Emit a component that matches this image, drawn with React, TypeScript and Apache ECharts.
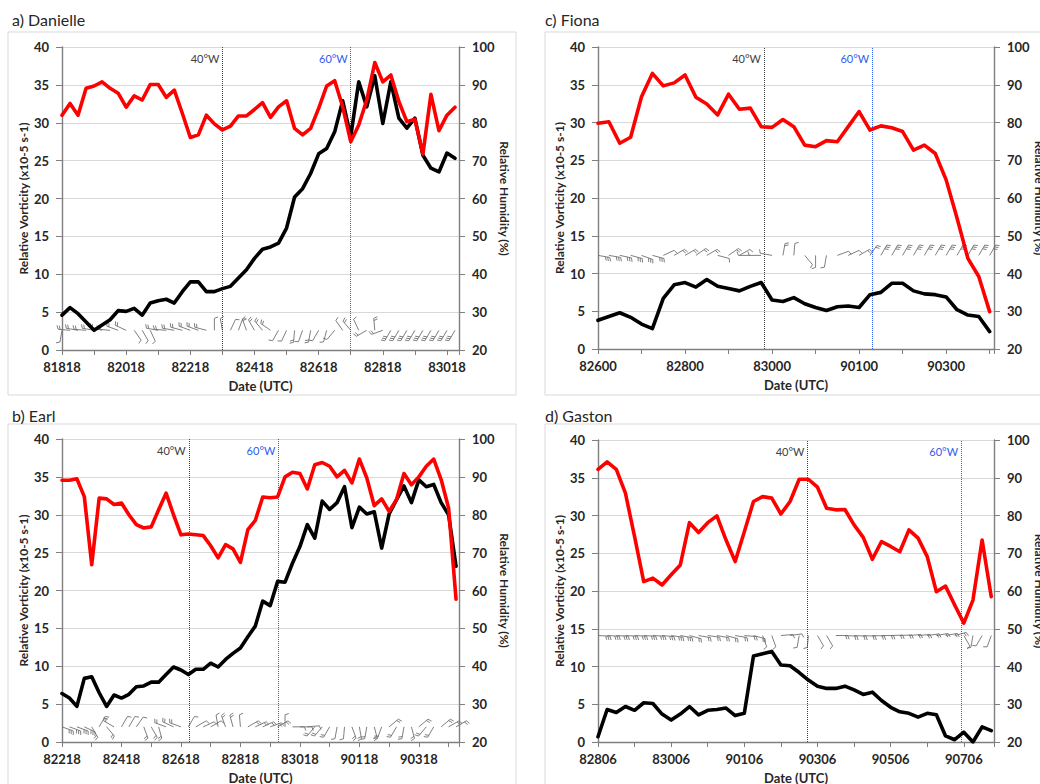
import React, { useEffect, useRef } from "react";
import * as echarts from "echarts";

const FONT = 'Lato, "Open Sans", "DejaVu Sans", sans-serif';

// ---------- a) Danielle ----------
const danielleDates = ["81818", "82018", "82218", "82418", "82618", "82818", "83018"];
const danielleVorticity = [4.6, 5.6, 4.8, 3.7, 2.6, 3.3, 4.0, 5.2, 5.1, 5.5, 4.6, 6.2, 6.5, 6.7, 6.2, 7.7, 9.0, 9.0, 7.7, 7.7, 8.1, 8.4, 9.5, 10.6, 12.1, 13.3, 13.6, 14.1, 16.1, 20.2, 21.3, 23.3, 25.9, 26.6, 28.8, 32.9, 28.2, 35.4, 32.1, 36.2, 29.9, 35.4, 30.6, 29.3, 30.6, 25.7, 24.0, 23.5, 26.0, 25.3];
const danielleHumidity = [82.0, 85.1, 82.0, 89.1, 89.7, 90.8, 89.1, 87.8, 84.1, 87.1, 86.0, 90.1, 90.1, 86.7, 88.6, 82.5, 76.1, 76.8, 82.0, 79.7, 78.1, 79.1, 81.8, 81.8, 83.5, 85.3, 81.4, 84.2, 85.8, 78.5, 76.8, 78.5, 83.8, 89.7, 91.1, 84.2, 75.0, 79.4, 86.0, 95.9, 90.8, 92.6, 85.6, 80.3, 80.9, 71.7, 87.5, 77.9, 82.0, 84.1];
const danielleBarbDir = [-100, 175, 170, 175, 170, 165, 175, 160, 155, -55, -60, -65, 170, 175, 170, 165, 160, 160, 165, 90, 100, 65, 70, 110, 120, 130, 145, -120, -115, -95, -110, -100, -120, -105, -130, 125, 130, 115, -150, 95, -160, -120, -120, -120, -120, -120, -120, -120, -120, -120];
const danielleBarbFeathers = [1, 2, 2, 2, 2, 2, 2, 2, 2, 1, 1, 1, 2, 2, 2, 2, 2, 2, 2, 1, 1, 1, 1, 2, 2, 2, 2, 1, 1, 2, 1, 2, 1, 1, 1, 1, 2, 1, 2, 2, 2, 3, 3, 3, 3, 3, 3, 3, 3, 3];
const danielle40W = 20;
const danielle60W = 36;

// ---------- b) Earl ----------
const earlDates = ["82218", "82418", "82618", "82818", "83018", "90118", "90318"];
const earlVorticity = [6.4, 5.8, 4.7, 8.4, 8.6, 6.5, 4.7, 6.2, 5.8, 6.3, 7.3, 7.4, 7.9, 7.9, 8.9, 9.9, 9.5, 8.9, 9.6, 9.6, 10.4, 9.9, 10.9, 11.7, 12.4, 13.9, 15.3, 18.6, 18.0, 21.2, 21.1, 23.6, 25.8, 28.7, 26.9, 31.8, 30.7, 31.6, 33.7, 28.3, 31.0, 30.1, 30.4, 25.6, 30.1, 32.0, 33.8, 31.6, 34.6, 33.7, 34.0, 31.6, 30.0, 23.2];
const earlHumidity = [89.1, 89.1, 89.5, 84.8, 66.8, 84.4, 84.2, 82.7, 83.1, 80.0, 77.4, 76.5, 76.8, 81.3, 85.7, 80.0, 74.7, 74.9, 74.7, 74.5, 71.8, 68.6, 72.1, 71.0, 67.4, 76.1, 78.5, 84.7, 84.5, 84.7, 90.0, 91.2, 90.9, 86.8, 93.2, 93.8, 92.8, 90.0, 91.7, 88.4, 94.7, 89.7, 82.4, 84.2, 80.9, 84.0, 90.9, 87.9, 90.0, 92.8, 94.7, 89.3, 81.8, 57.7];
const earlBarbDir = [-20, -20, -20, -25, -60, 60, -50, 150, 60, 60, 55, -70, -60, -75, 160, 155, 160, 60, 30, 25, 30, 100, 110, 105, 95, 30, 25, 25, 20, 30, 90, 0, 0, 5, -130, -130, -120, -100, -95, -70, -80, -100, -75, -110, 40, -120, -100, -75, 40, -130, -120, 40, 30, 30];
const earlBarbFeathers = [3, 3, 3, 3, 2, 2, 2, 2, 1, 1, 1, 2, 2, 2, 2, 2, 2, 1, 1, 1, 1, 1, 2, 2, 1, 2, 2, 2, 2, 2, 1, 1, 1, 1, 2, 2, 2, 1, 1, 2, 2, 2, 2, 2, 2, 2, 2, 2, 2, 2, 2, 2, 2, 2];
const earl40W = 17.05;
const earl60W = 29.1;

// ---------- c) Fiona ----------
const fionaDates = ["82600", "82800", "83000", "90100", "90300"];
const fionaVorticity = [3.8, 4.3, 4.8, 4.2, 3.3, 2.7, 6.7, 8.5, 8.8, 8.2, 9.2, 8.3, 8.0, 7.7, 8.3, 8.8, 6.5, 6.3, 6.8, 6.0, 5.5, 5.1, 5.6, 5.7, 5.5, 7.2, 7.5, 8.7, 8.7, 7.7, 7.3, 7.2, 6.9, 5.2, 4.5, 4.3, 2.3];
const fionaHumidity = [79.8, 80.2, 74.5, 76.1, 86.8, 93.0, 89.7, 90.5, 92.6, 86.7, 84.9, 82.0, 87.5, 83.5, 83.8, 78.9, 78.7, 80.8, 78.9, 74.0, 73.6, 75.2, 74.9, 78.9, 82.9, 78.0, 79.1, 78.6, 77.6, 72.7, 74.0, 71.8, 64.8, 54.7, 44.0, 39.2, 29.9];
const fionaBarbDir = [-10, -10, -12, -15, -20, -15, 25, 30, 30, 35, 30, -15, 35, 30, 180, 180, 170, 80, 85, -50, -90, -100, 20, 25, 30, 55, 60, 60, 60, 60, 60, 60, 60, 60, 60, 60, 60];
const fionaBarbFeathers = [3, 3, 3, 3, 3, 3, 1, 2, 2, 2, 2, 1, 2, 1, 1, 1, 1, 2, 1, 1, 1, 1, 1, 1, 2, 2, 3, 3, 3, 3, 3, 3, 3, 3, 3, 3, 3];
const fiona40W = 15.25;
const fiona60W = 25.2;

// ---------- d) Gaston ----------
const gastonDates = ["82806", "83006", "90106", "90306", "90506", "90706"];
const gastonVorticity = [0.7, 4.3, 3.9, 4.7, 4.2, 5.2, 5.1, 3.7, 2.9, 3.7, 4.7, 3.6, 4.2, 4.3, 4.5, 3.5, 3.8, 11.4, 11.7, 12.0, 10.2, 10.1, 9.2, 8.2, 7.4, 7.1, 7.1, 7.4, 6.9, 6.3, 6.6, 5.5, 4.6, 4.0, 3.8, 3.3, 3.8, 3.6, 0.8, 0.3, 1.3, 0.0, 2.0, 1.5];
const gastonHumidity = [92.2, 94.2, 92.2, 85.9, 74.4, 62.5, 63.4, 61.6, 64.3, 66.9, 78.1, 75.5, 78.1, 79.9, 73.5, 67.8, 75.7, 83.7, 85.0, 84.6, 80.4, 83.7, 89.6, 89.6, 87.5, 81.9, 81.5, 81.6, 77.5, 74.2, 68.4, 73.1, 71.8, 70.4, 76.2, 74.0, 69.1, 59.8, 61.3, 56.3, 51.5, 57.6, 73.5, 58.5];
const gastonBarbDir = [-3, -3, -3, -3, -3, -3, -3, -5, -8, -10, -15, -10, -8, -10, -15, -10, -5, -15, -70, -70, 5, 8, -100, -95, -60, -60, 0, -3, -3, -3, -2, 0, 2, 3, 5, 5, 8, 10, 10, 15, -60, -100, -120, -110];
const gastonBarbFeathers = [3, 3, 3, 3, 3, 3, 3, 3, 3, 3, 2, 2, 2, 2, 2, 2, 2, 2, 1, 1, 1, 1, 1, 1, 1, 1, 2, 2, 2, 2, 2, 2, 2, 2, 2, 2, 2, 2, 2, 2, 1, 1, 1, 1];
const gaston40W = 22.9;
const gaston60W = 39.7;

const BLUE = "#2f5cf0";
const AXIS = "#7f7f7f";
const TEXT = "#262626";

type Panel = {
  title: string;
  vort: number[];
  rh: number[];
  labels: string[];
  barbLevel: number;
  barbDir: number[];
  barbN: number[];
  w40: number;
  w60: number;
  xMax: number;
  grid: { left: number; top: number; width: number; height: number };
  frame: [number, number, number, number];
  titleAt: [number, number];
};

const panels: Panel[] = [
  {
    title: "a) Danielle", vort: danielleVorticity, rh: danielleHumidity, labels: danielleDates,
    barbLevel: 2.6, barbDir: danielleBarbDir, barbN: danielleBarbFeathers, w40: danielle40W, w60: danielle60W,
    xMax: 49.5, grid: { left: 62, top: 47, width: 397, height: 303 }, frame: [8, 32, 508, 363], titleAt: [12, 19],
  },
  {
    title: "c) Fiona", vort: fionaVorticity, rh: fionaHumidity, labels: fionaDates,
    barbLevel: 12.4, barbDir: fionaBarbDir, barbN: fionaBarbFeathers, w40: fiona40W, w60: fiona60W,
    xMax: 36.4, grid: { left: 598, top: 47, width: 396, height: 302 }, frame: [545, 32, 520, 363], titleAt: [545, 19],
  },
  {
    title: "b) Earl", vort: earlVorticity, rh: earlHumidity, labels: earlDates,
    barbLevel: 2.0, barbDir: earlBarbDir, barbN: earlBarbFeathers, w40: earl40W, w60: earl60W,
    xMax: 53.4, grid: { left: 62, top: 439, width: 397, height: 303 }, frame: [8, 424, 508, 380], titleAt: [12, 415],
  },
  {
    title: "d) Gaston", vort: gastonVorticity, rh: gastonHumidity, labels: gastonDates,
    barbLevel: 14.1, barbDir: gastonBarbDir, barbN: gastonBarbFeathers, w40: gaston40W, w60: gaston60W,
    xMax: 43.3, grid: { left: 598, top: 440, width: 396, height: 302 }, frame: [545, 424, 520, 380], titleAt: [545, 415],
  },
];

function barbRender(params: any, api: any) {
  const base = api.coord([api.value(0), api.value(1)]);
  const ang = (api.value(2) * Math.PI) / 180;
  const n = api.value(3);
  const L = 12, F = 4, S = 2.2;
  const ux = Math.cos(ang), uy = -Math.sin(ang);
  const tx = base[0] + ux * L, ty = base[1] + uy * L;
  const fa = ang - (70 * Math.PI) / 180;
  const fx = Math.cos(fa), fy = -Math.sin(fa);
  const style = { stroke: "#707070", lineWidth: 0.9 };
  const children: any[] = [
    { type: "line", shape: { x1: base[0], y1: base[1], x2: tx, y2: ty }, style },
  ];
  for (let k = 0; k < n; k++) {
    const px = tx - ux * S * k, py = ty - uy * S * k;
    children.push({ type: "line", shape: { x1: px, y1: py, x2: px + fx * F, y2: py + fy * F }, style });
  }
  return { type: "group", children };
}

function buildOption() {
  const grid: any[] = [];
  const xAxis: any[] = [];
  const yAxis: any[] = [];
  const series: any[] = [];
  const graphic: any[] = [];
  const tickLabelStyle = { fontFamily: FONT, fontWeight: "bold", fontSize: 13, color: TEXT };

  panels.forEach((p, k) => {
    grid.push({ ...p.grid, containLabel: false });
    xAxis.push({
      gridIndex: k, type: "value", min: 0, max: p.xMax, interval: 4,
      axisLine: { show: true, onZero: false, lineStyle: { color: AXIS, width: 1.4 } },
      axisTick: { show: true, length: 5, lineStyle: { color: AXIS } },
      splitLine: { show: false },
      axisLabel: {
        ...tickLabelStyle, margin: 10, showMinLabel: true, showMaxLabel: true,
        formatter: (v: number) => (Math.abs(v % 8) < 1e-6 ? p.labels[Math.round(v / 8)] ?? "" : ""),
      },
    });
    yAxis.push({
      gridIndex: k, type: "value", min: 0, max: 40, interval: 5, position: "left",
      axisLine: { show: true, onZero: false, lineStyle: { color: AXIS, width: 1.4 } },
      axisTick: { show: true, length: 6, lineStyle: { color: AXIS } },
      splitLine: { show: true, lineStyle: { color: "#d9d9d9", width: 1 } },
      axisLabel: { ...tickLabelStyle, margin: 13 },
    });
    yAxis.push({
      gridIndex: k, type: "value", min: 20, max: 100, interval: 10, position: "right",
      axisLine: { show: true, onZero: false, lineStyle: { color: AXIS, width: 1.4 } },
      axisTick: { show: true, length: 6, lineStyle: { color: AXIS } },
      splitLine: { show: false },
      axisLabel: { ...tickLabelStyle, margin: 13 },
    });

    series.push({
      type: "custom", name: "barbs" + k, xAxisIndex: k, yAxisIndex: 2 * k, z: 1, silent: true,
      renderItem: barbRender,
      encode: { x: 0, y: 1 },
      data: p.vort.map((_, i) => [i, p.barbLevel, p.barbDir[i], p.barbN[i]]),
    });
    series.push({
      type: "line", name: "Relative Vorticity", xAxisIndex: k, yAxisIndex: 2 * k, z: 3,
      symbol: "none", data: p.vort.map((v, i) => [i, v]),
      lineStyle: { color: "#000000", width: 3.6, cap: "round", join: "round" },
      itemStyle: { color: "#000000" },
      markLine: {
        symbol: "none", silent: true, label: { show: false }, z: 2,
        data: [
          { xAxis: p.w40, lineStyle: { color: "#404040", type: "dotted", width: 1 } },
          { xAxis: p.w60, lineStyle: { color: BLUE, type: "dotted", width: 1 } },
        ],
      },
      markPoint: {
        symbol: "circle", symbolSize: 0, silent: true,
        itemStyle: { color: "transparent" },
        data: [
          {
            coord: [p.w40, 40],
            label: { show: true, position: "left", distance: 3, offset: [0, 11], formatter: "40°W", color: "#404040", fontSize: 11, fontFamily: FONT },
          },
          {
            coord: [p.w60, 40],
            label: { show: true, position: "left", distance: 3, offset: [0, 11], formatter: "60°W", color: BLUE, fontSize: 11, fontFamily: FONT },
          },
        ],
      },
    });
    series.push({
      type: "line", name: "Relative Humidity", xAxisIndex: k, yAxisIndex: 2 * k + 1, z: 4,
      symbol: "none", data: p.rh.map((v, i) => [i, v]),
      lineStyle: { color: "#ff0000", width: 3.6, cap: "round", join: "round" },
      itemStyle: { color: "#ff0000" },
    });

    const g = p.grid;
    graphic.push({
      type: "rect", z: -10, silent: true,
      shape: { x: p.frame[0], y: p.frame[1], width: p.frame[2], height: p.frame[3] },
      style: { fill: "none", stroke: "#d9d9d9", lineWidth: 1 },
    });
    graphic.push({
      type: "text", x: p.titleAt[0], y: p.titleAt[1], silent: true,
      style: { text: p.title, fontSize: 16, fontFamily: FONT, fill: "#262626", textAlign: "left", align: "left", textVerticalAlign: "middle", verticalAlign: "middle" },
    });
    graphic.push({
      type: "text", x: g.left - 39, y: g.top + g.height / 2, rotation: Math.PI / 2, silent: true,
      style: { text: "Relative Vorticity (x10-5 s-1)", fontSize: 12, fontWeight: "bold", fontFamily: FONT, fill: TEXT, textAlign: "center", align: "center", textVerticalAlign: "middle", verticalAlign: "middle" },
    });
    graphic.push({
      type: "text", x: g.left + g.width + 45, y: g.top + g.height / 2, rotation: -Math.PI / 2, silent: true,
      style: { text: "Relative Humidity (%)", fontSize: 12, fontWeight: "bold", fontFamily: FONT, fill: TEXT, textAlign: "center", align: "center", textVerticalAlign: "middle", verticalAlign: "middle" },
    });
    graphic.push({
      type: "text", x: g.left + g.width / 2, y: g.top + g.height + 36, silent: true,
      style: { text: "Date (UTC)", fontSize: 13, fontWeight: "bold", fontFamily: FONT, fill: TEXT, textAlign: "center", align: "center", textVerticalAlign: "middle", verticalAlign: "middle" },
    });
  });

  return {
    animation: false,
    backgroundColor: "#ffffff",
    textStyle: { fontFamily: FONT },
    grid, xAxis, yAxis, series, graphic,
  };
}

export default function App() {
  const ref = useRef<HTMLDivElement>(null);
  useEffect(() => {
    if (!ref.current) return;
    const chart = echarts.init(ref.current, null, { renderer: "svg" });
    chart.setOption(buildOption() as any);
    return () => chart.dispose();
  }, []);
  return (
    <div
      ref={ref}
      style={{ position: "absolute", left: 0, top: 0, width: 1040, height: 784, background: "#fff" }}
    />
  );
}
